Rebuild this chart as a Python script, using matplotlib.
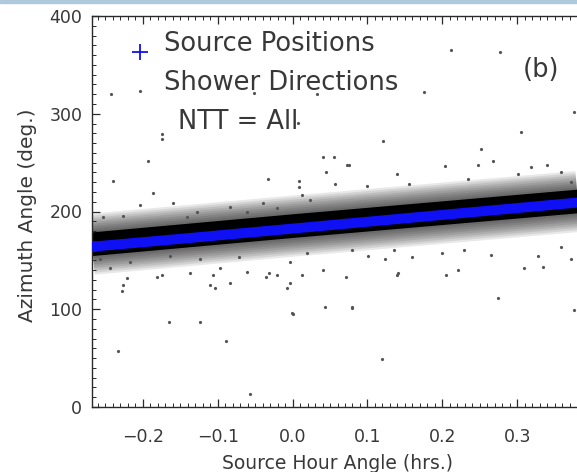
import numpy as np
import matplotlib
matplotlib.use("Agg")
import matplotlib.pyplot as plt
from matplotlib.patches import Rectangle
from matplotlib.ticker import MultipleLocator

# ── Source positions (track of the source across the panel) ────────────────
src_hour = [-0.268, -0.15, 0.0, 0.15, 0.30, 0.40]
src_az = [164.0, 172.0, 182.5, 193.0, 203.5, 210.5]

# centre of the dense shower-direction cloud
band_hour = [-0.268, 0.0, 0.40]
band_az = [166.5, 185.0, 211.5]

# individual shower directions visible away from the dense band
out_hour = [-0.242, -0.174, -0.174, 0.032, 0.007, 0.212, 0.277, 0.176, 0.376,
            0.305, 0.121, 0.252, 0.040, 0.073, 0.203, -0.240, -0.033, -0.187,
            -0.204, -0.160, -0.193, 0.008, 0.009, 0.045, 0.012, -0.244, -0.221,
            -0.227, -0.228, -0.175, -0.111, -0.104, -0.084, -0.107, -0.035,
            -0.021, -0.008, -0.004, -0.001, 0.043, -0.165, -0.124, -0.089,
            -0.233, -0.057, 0.072, 0.139, 0.205, 0.275, 0.080, 0.376, 0.119,
            0.075, 0.268, 0.248, 0.319, 0.340, 0.139, 0.056, 0.155, 0.099,
            0.235, 0.301, 0.359, 0.372, 0.055, 0.079, 0.101, 0.136, 0.123,
            0.159, 0.199, 0.229, 0.265, 0.328, 0.359, 0.372, 0.221, 0.309,
            0.335, 0.141, 0.000, 0.079, -0.097, -0.061, -0.031, 0.013, 0.040,
            -0.181, -0.137, -0.128, -0.084, -0.061, -0.040, -0.021, 0.023,
            -0.253, -0.227, -0.141, -0.257, -0.217, -0.164, -0.124, -0.071,
            0.019, -0.004, -0.051]
out_az = [320.7, 279.0, 274.0, 320.0, 291.0, 365.0, 363.0, 322.0, 302.0,
          281.0, 272.0, 263.6, 256.0, 248.0, 247.0, 231.0, 233.0, 219.0,
          207.0, 209.0, 252.0, 231.0, 225.0, 240.0, 217.0, 142.6, 132.0,
          125.0, 119.0, 135.0, 125.0, 122.0, 127.0, 135.0, 133.0,
          135.0, 122.0, 127.0, 96.0, 102.5, 87.0, 87.0, 68.0,
          57.0, 13.0, 133.0, 135.0, 135.0, 112.0, 101.5, 99.5, 49.0,
          248.0, 252.0, 248.0, 246.0, 248.0, 238.0, 228.0, 228.0, 226.0,
          233.0, 238.0, 240.0, 230.0, 256.0, 161.0, 154.0, 161.0, 151.0,
          153.0, 158.0, 161.0, 156.0, 154.0, 164.0, 151.0, 140.5, 142.6,
          143.6, 137.0, 95.0, 102.5, 142.6, 138.0, 137.0, 135.0, 140.5,
          133.0, 137.0, 200.0, 205.0, 200.0, 209.0, 204.0, 212.0,
          194.0, 195.0, 194.0, 151.0, 148.0, 154.0, 151.0, 153.0,
          158.0, 148.0, 321.0]

x_ticks = [-0.2, -0.1, 0.0, 0.1, 0.2, 0.3, 0.4]
x_ticklabels = ["\u22120.2", "\u22120.1", "0.0", "0.1", "0.2", "0.3", ""]
y_ticks = [0, 100, 200, 300, 400]

INK = "#2a2a2a"
TXT = "#383838"

fig = plt.figure(figsize=(5.77, 4.72), dpi=100, facecolor="white")
# axes placed so that 0.4 hrs falls just past the right edge (panel is cropped)
ax = fig.add_axes([92 / 577, 65 / 472, 500 / 577, 391 / 472])
ax.set_xlim(-0.268, 0.40)
ax.set_ylim(0, 400)

# dense shower cloud: many thin translucent layers give it a soft edge
for lw in [44, 41, 38, 35, 32, 29, 26, 23, 20]:
    ax.plot(band_hour, band_az, color="black", lw=lw, alpha=0.09,
            solid_capstyle="butt", zorder=1)
ax.plot(band_hour, band_az, color="black", lw=17, solid_capstyle="butt",
        zorder=1)
ax.plot(out_hour, out_az, ls="none", marker="o", ms=2.3, mew=0,
        color="#555555", zorder=2)
# source positions
ax.plot(src_hour, src_az, color="#1010f4", lw=7.2, solid_capstyle="butt",
        zorder=3)

# ── axes styling (IDL-like inward ticks, top ticks too) ────────────────────
ax.set_xticks(x_ticks)
ax.set_xticklabels(x_ticklabels)
ax.set_yticks(y_ticks)
ax.xaxis.set_minor_locator(MultipleLocator(0.01))
ax.yaxis.set_minor_locator(MultipleLocator(10))
ax.tick_params(which="both", direction="in", top=True, right=False,
               colors=INK, labelcolor=TXT)
ax.tick_params(which="major", length=6, width=0.9)
ax.tick_params(which="minor", length=3, width=0.7)
ax.tick_params(axis="x", which="major", pad=15, labelsize=12.5)
ax.tick_params(axis="y", which="major", pad=7, labelsize=12.5)
for name, s in ax.spines.items():
    s.set_color(INK)
    s.set_linewidth(1.0)
ax.spines["right"].set_visible(False)

ax.set_xlabel("Source Hour Angle (hrs.)", fontsize=13.5, color=TXT)
ax.set_ylabel("Azimuth Angle (deg.)", fontsize=14.5, color=TXT)
ax.xaxis.set_label_coords(0.49, -0.12)
ax.yaxis.set_label_coords(-0.11, 0.49)

# ── in-panel legend ────────────────────────────────────────────────────────
ax.plot([0.096], [0.908], transform=ax.transAxes, marker="+", ms=12, mew=1.3,
        color="#1010f4", ls="none")
ax.plot([0.096], [0.808], transform=ax.transAxes, marker="o", ms=2.3, mew=0,
        color="#555555", ls="none")
leg_kw = dict(transform=ax.transAxes, fontsize=18.5, color=TXT,
              va="center", ha="left")
ax.text(0.144, 0.928, "Source Positions", **leg_kw)
ax.text(0.144, 0.829, "Shower Directions", **leg_kw)
ax.text(0.172, 0.729, "NTT = All", **leg_kw)
ax.text(0.898, 0.862, "(b)", transform=ax.transAxes, fontsize=18.5,
        color=TXT, va="center", ha="center")

# thin light-blue frame strip along the top of the clipped figure
fig.patches.append(Rectangle((0, 1 - 3 / 472), 1, 3 / 472,
                             transform=fig.transFigure, color="#aec8dc",
                             zorder=10))

fig.savefig("out.png", dpi=100)
